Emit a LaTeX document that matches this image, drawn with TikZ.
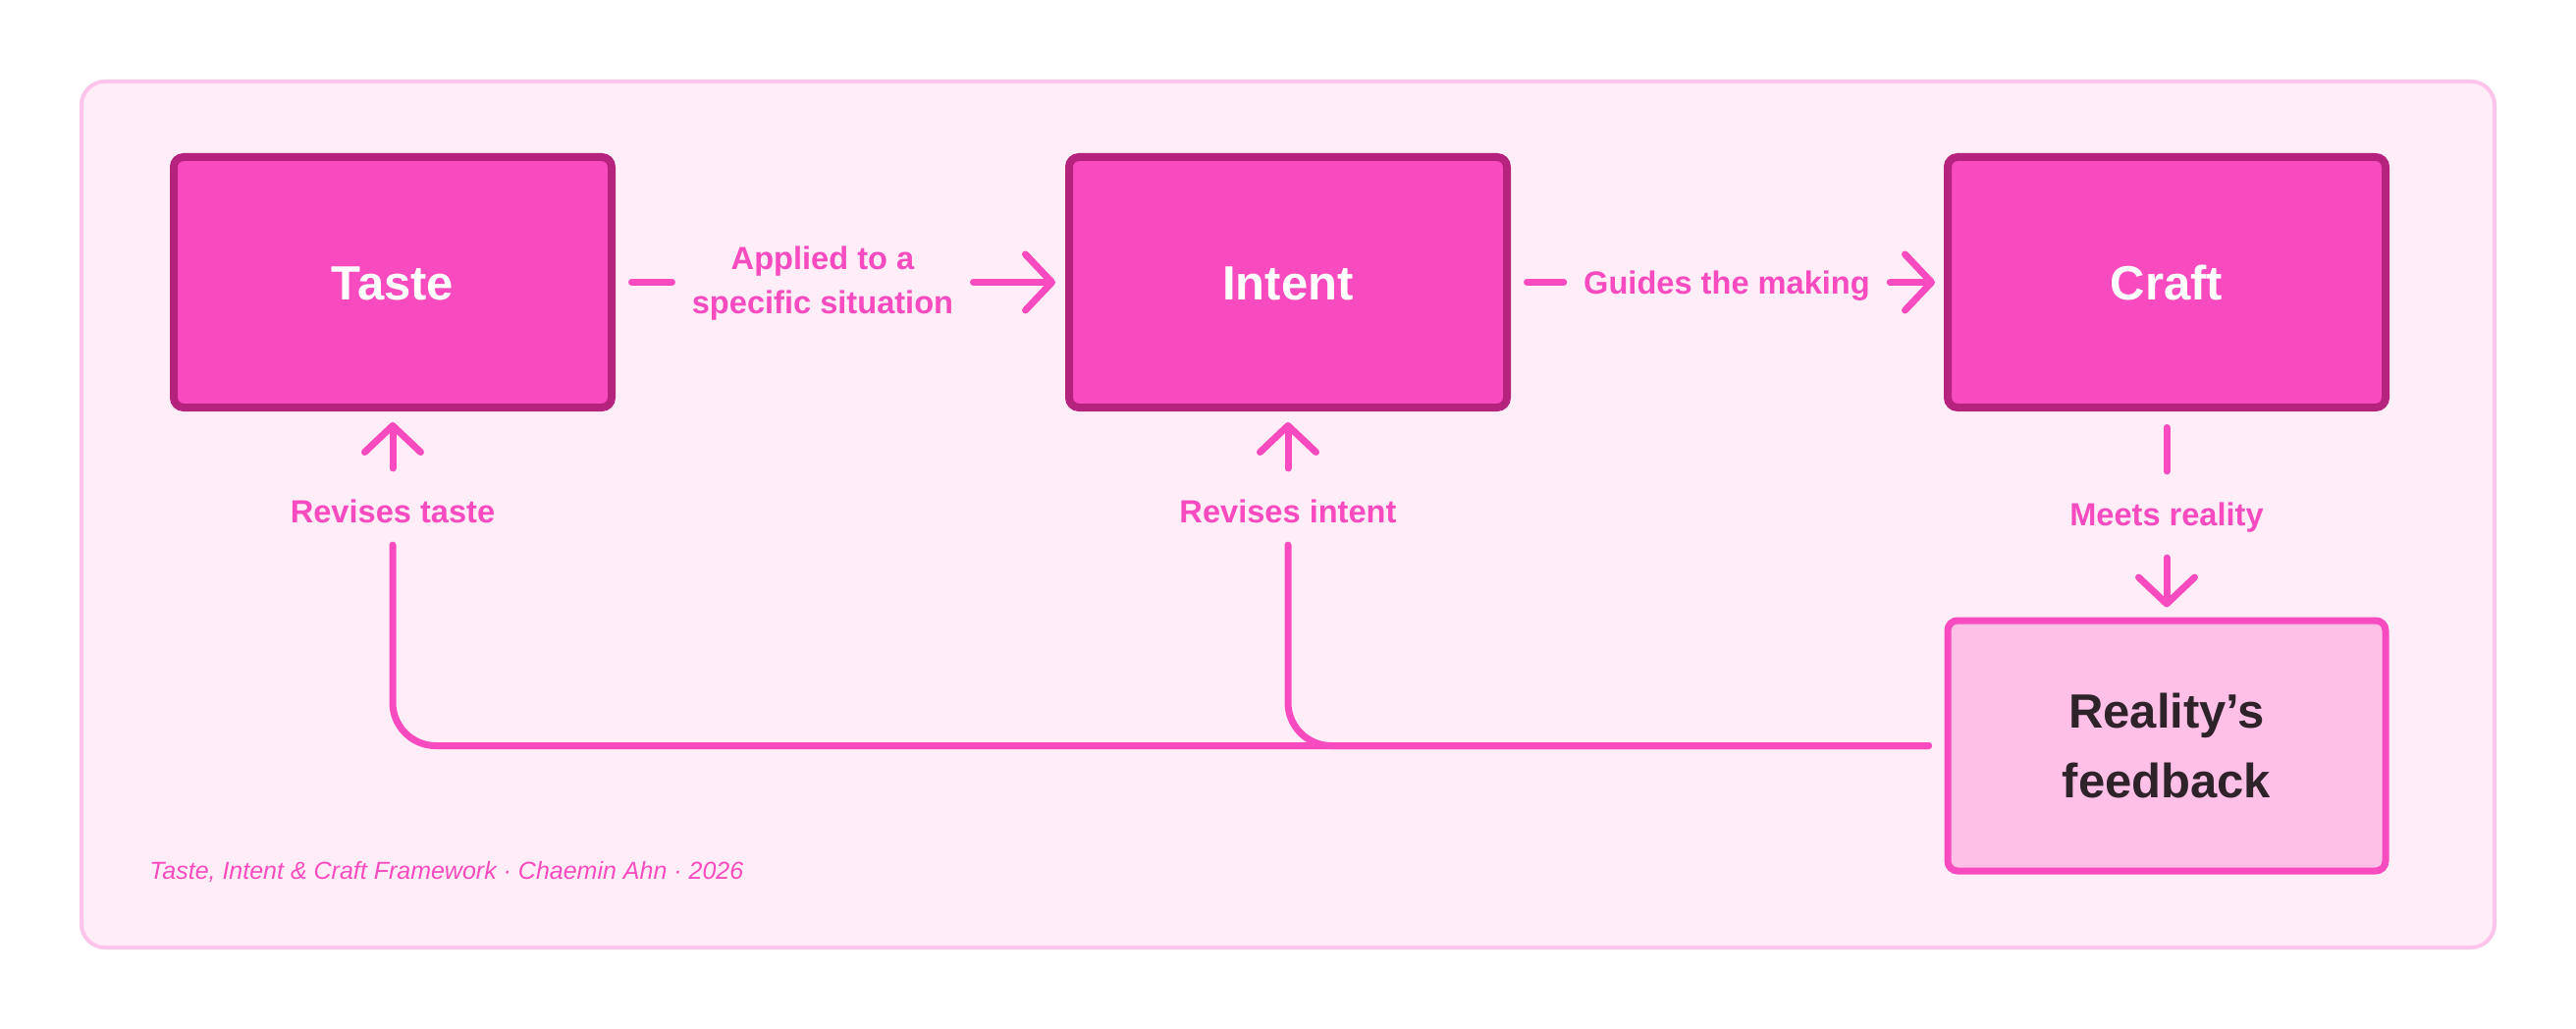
\documentclass[tikz,border=0pt]{standalone}
\usepackage{fontspec}
\setmainfont{Liberation Sans}
\usetikzlibrary{arrows.meta}
\definecolor{panelfill}{HTML}{FFEEF8}
\definecolor{panelline}{HTML}{FFC4EA}
\definecolor{boxfill}{HTML}{F84BC0}
\definecolor{boxline}{HTML}{B5237F}
\definecolor{fbfill}{HTML}{FFC0E8}
\definecolor{darktext}{HTML}{2E2329}
\definecolor{accent}{HTML}{F84BC0}
\begin{document}
\begin{tikzpicture}[x=0.5pt,y=-0.5pt,
  mainbox/.style={draw=boxline, fill=boxfill, line width=4pt, rounded corners=5pt,
    minimum width=223pt, minimum height=127.5pt, inner sep=0pt, text=white,
    font=\bfseries\fontsize{24.5}{30}\selectfont, text height=17.6pt, text depth=0pt},
  fbbox/.style={draw=accent, fill=fbfill, line width=3.5pt, rounded corners=5pt,
    minimum width=223pt, minimum height=127.5pt, inner sep=0pt, text=darktext,
    font=\bfseries\fontsize{24.5}{35.5}\selectfont, align=center},
  lbl/.style={text=accent, font=\bfseries\fontsize{16.3}{22.5}\selectfont, inner sep=0pt},
  lblone/.style={lbl, text height=11.7pt, text depth=0pt},
  conn/.style={draw=accent, line width=3.5pt, line cap=round, line join=round},
  arr/.style={-{Straight Barb[length=13.5pt,width=28.5pt,round]}},
]
\path[use as bounding box, fill=white] (0,0) rectangle (2624,1048);
\draw[fill=panelfill, draw=panelline, line width=2pt, rounded corners=12pt] (83,83) rectangle (2541,965);

\node[mainbox] (taste) at (400,287.5) {Taste};
\node[mainbox] (intent) at (1312,287.5) {Intent};
\node[mainbox] (craft) at (2207,287.5) {Craft};
\node[fbbox] (fb) at (2207,759.5) {Reality’s\\feedback};

\node[lbl, align=center] (l1) at (838,289) {Applied to a\\specific situation};
\node[lblone] (l2) at (1759,287.5) {Guides the making};
\node[lblone] (mr) at (2207,524) {Meets reality};
\node[lblone] (rt) at (400,521) {Revises taste};
\node[lblone] (ri) at (1312,521) {Revises intent};
\node[anchor=base west, text=accent, font=\itshape\fontsize{12.5}{15}\selectfont, inner sep=0pt] (foot) at (152,895) {Taste, Intent \& Craft Framework · Chaemin Ahn · 2026};

\draw[conn, shorten <=8.25pt, shorten >=10pt] (taste.east) -- (taste.east -| l1.west);
\draw[conn, arr, shorten <=10pt, shorten >=5pt] (intent.west -| l1.east) -- (intent.west);
\draw[conn, shorten <=8.25pt, shorten >=10pt] (intent.east) -- (l2.west);
\draw[conn, arr, shorten <=10pt, shorten >=4.5pt] (l2.east) -- (craft.west);
\draw[conn, shorten <=8.25pt, shorten >=16pt] (craft.south) -- (mr.north);
\draw[conn, arr, shorten <=16pt, shorten >=5pt] (mr.south) -- (fb.north);
\draw[conn, rounded corners=22pt, shorten <=8pt, shorten >=11pt] (fb.west) -| (rt.south);
\draw[conn, rounded corners=22pt, shorten <=8pt, shorten >=11pt] (fb.west) -| (ri.south);
\draw[conn, arr, shorten <=16pt, shorten >=5.5pt] (rt.north) -- (taste.south);
\draw[conn, arr, shorten <=16pt, shorten >=5.5pt] (ri.north) -- (intent.south);
\end{tikzpicture}
\end{document}
